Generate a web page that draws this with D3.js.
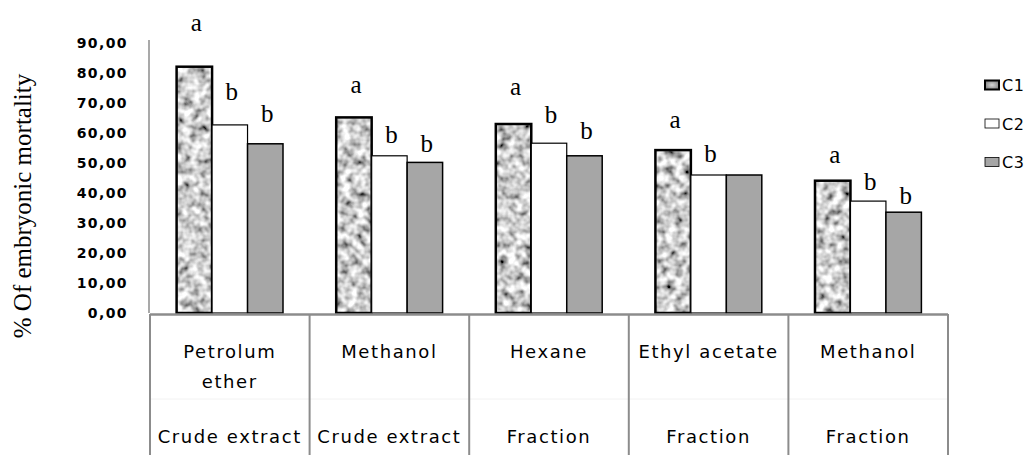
<!DOCTYPE html>
<html>
  <head>
    <title>Embryonic mortality</title>
    <script src="https://cdn.jsdelivr.net/npm/d3@7"></script>
    <style>
      body { margin: 0; background: #fff; }
      .tick text { font-family: "DejaVu Sans"; font-weight: bold; font-size: 14px; letter-spacing: 1.4px; fill: #000; }
      .cat { font-family: "DejaVu Sans"; font-size: 18px; letter-spacing: 1.6px; fill: #000; }
      .sig { font-family: "Liberation Serif"; font-size: 25px; fill: #000; }
    </style>
  </head>
  <body>
    <svg id="chart" width="1036" height="455"></svg>
    <script>
// values
const extractLabels = [['Petrolum', 'ether'], ['Methanol'], ['Hexane'], ['Ethyl acetate'], ['Methanol']];
const typeLabels = ['Crude extract', 'Crude extract', 'Fraction', 'Fraction', 'Fraction'];
const seriesNames = ['C1', 'C2', 'C3'];
const c1 = [82.1, 65.2, 63.0, 54.3, 44.1];
const c2 = [62.7, 52.4, 56.6, 46.0, 37.3];
const c3 = [56.4, 50.2, 52.4, 46.0, 33.6];
// significance letters and the height (in %) where each one sits
const c1Letters = ['a', 'a', 'a', 'a', 'a'];
const c2Letters = ['b', 'b', 'b', 'b', 'b'];
const c3Letters = ['b', 'b', 'b', '', 'b'];
const c1LetterAt = [94, 73.3, 72.7, 61.7, 50];
const c2LetterAt = [71, 56.7, 63.3, 50.3, 41];
const c3LetterAt = [63.7, 53.7, 58, 0, 36.3];
const yTicks = [0, 10, 20, 30, 40, 50, 60, 70, 80, 90];

let svg = d3.select('#chart');

// mottled grey texture of the C1 bars
let defs = svg.append('defs');
let filt = defs.append('filter')
  .attr('id', 'mottle')
  .attr('x', 0).attr('y', 0).attr('width', 1).attr('height', 1);
filt.append('feTurbulence')
  .attr('type', 'fractalNoise')
  .attr('baseFrequency', 0.12)
  .attr('numOctaves', 2)
  .attr('seed', 7)
  .attr('result', 'noise');
filt.append('feColorMatrix')
  .attr('in', 'noise')
  .attr('type', 'matrix')
  .attr('values', '1.8 0 0 0 -0.28  1.8 0 0 0 -0.28  1.8 0 0 0 -0.28  0 0 0 0 1')
  .attr('result', 'grey');
filt.append('feComposite')
  .attr('in', 'grey')
  .attr('in2', 'SourceGraphic')
  .attr('operator', 'in');

let grad = defs.append('radialGradient').attr('id', 'legendC1');
grad.append('stop').attr('offset', '0%').attr('stop-color', '#d6d6d6');
grad.append('stop').attr('offset', '100%').attr('stop-color', '#8a8a8a');

let plotLeft = 150, plotRight = 948, plotBottom = 313, plotTop = 43;

let y = d3.scaleLinear().domain([0, 90]).range([plotBottom, plotTop]);
let x = d3.scaleBand()
  .domain(d3.range(extractLabels.length))
  .range([plotLeft, plotRight])
  .padding(0);
let xs = d3.scaleBand()
  .domain(seriesNames)
  .range([0, x.bandwidth()])
  .paddingInner(0)
  .paddingOuter(0.75);

// y axis
let yAxis = svg.append('g')
  .attr('transform', 'translate(' + (plotLeft - 1) + ',0)')
  .call(d3.axisLeft(y)
    .tickValues(yTicks)
    .tickSize(0)
    .tickPadding(21)
    .tickFormat(d => d3.format('.2f')(d).replace('.', ',')));
yAxis.select('.domain')
  .attr('stroke', '#8c8c8c')
  .attr('stroke-width', 1.5)
  .attr('d', 'M0,' + (plotTop - 3) + 'V' + plotBottom);

svg.append('text')
  .attr('class', 'sig')
  .attr('font-size', 25)
  .attr('text-anchor', 'middle')
  .attr('transform', 'translate(31,' + 206 + ') rotate(-90)')
  .text('% Of embryonic mortality');

// bars
let series = [
  {name: 'C1', values: c1, letters: c1Letters, at: c1LetterAt},
  {name: 'C2', values: c2, letters: c2Letters, at: c2LetterAt},
  {name: 'C3', values: c3, letters: c3Letters, at: c3LetterAt}
];
let styles = {
  C1: {fill: '#aaa', stroke: '#000', sw: 2.5},
  C2: {fill: '#fff', stroke: '#000', sw: 1.2},
  C3: {fill: '#a6a6a6', stroke: '#000', sw: 1.5}
};

series.forEach(function(s) {
  let rows = s.values.map((v, i) => ({i: i, v: v, letter: s.letters[i], at: s.at[i]}));
  let g = svg.append('g');
  if (s.name === 'C1') {
    g.selectAll('.tex')
      .data(rows)
      .enter()
      .append('rect')
      .attr('x', d => x(d.i) + xs(s.name))
      .attr('y', d => y(d.v))
      .attr('width', xs.bandwidth())
      .attr('height', d => y(0) - y(d.v))
      .attr('fill', '#aaa')
      .attr('filter', 'url(#mottle)');
  }
  g.selectAll('.bar')
    .data(rows)
    .enter()
    .append('rect')
    .attr('x', d => x(d.i) + xs(s.name))
    .attr('y', d => y(d.v))
    .attr('width', xs.bandwidth())
    .attr('height', d => y(0) - y(d.v))
    .attr('fill', s.name === 'C1' ? 'none' : styles[s.name].fill)
    .attr('stroke', styles[s.name].stroke)
    .attr('stroke-width', styles[s.name].sw);
  g.selectAll('.sig')
    .data(rows.filter(d => d.letter))
    .enter()
    .append('text')
    .attr('class', 'sig')
    .attr('text-anchor', 'middle')
    .attr('x', d => x(d.i) + xs(s.name) + xs.bandwidth() / 2 + 2)
    .attr('y', d => y(d.at))
    .text(d => d.letter);
});

// category axis drawn as a table
let axisColor = '#8c8c8c';
svg.append('line')
  .attr('x1', plotLeft).attr('x2', plotRight)
  .attr('y1', plotBottom + 1.5).attr('y2', plotBottom + 1.5)
  .attr('stroke', axisColor).attr('stroke-width', 2.5);
svg.append('line')
  .attr('x1', plotLeft).attr('x2', plotRight)
  .attr('y1', 399).attr('y2', 399)
  .attr('stroke', '#f2f2f2').attr('stroke-width', 1);
svg.selectAll('.sep')
  .data(d3.range(extractLabels.length + 1))
  .enter()
  .append('line')
  .attr('x1', d => d < extractLabels.length ? x(d) : plotRight)
  .attr('x2', d => d < extractLabels.length ? x(d) : plotRight)
  .attr('y1', plotBottom + 1)
  .attr('y2', 455)
  .attr('stroke', axisColor)
  .attr('stroke-width', 2);

extractLabels.forEach(function(lines, i) {
  let t = svg.append('text')
    .attr('class', 'cat')
    .attr('text-anchor', 'middle')
    .attr('x', x(i) + x.bandwidth() / 2)
    .attr('y', 358);
  lines.forEach(function(line, k) {
    t.append('tspan')
      .attr('x', x(i) + x.bandwidth() / 2)
      .attr('dy', k === 0 ? 0 : 30)
      .text(line);
  });
});
svg.selectAll('.type')
  .data(typeLabels)
  .enter()
  .append('text')
  .attr('class', 'cat')
  .attr('text-anchor', 'middle')
  .attr('x', (d, i) => x(i) + x.bandwidth() / 2)
  .attr('y', 443)
  .text(d => d);

// legend
let legend = svg.append('g').attr('transform', 'translate(985,0)');
let legendY = d3.scalePoint().domain(seriesNames).range([85, 162]);
let legendFill = {C1: 'url(#legendC1)', C2: '#fff', C3: '#a6a6a6'};
legend.selectAll('rect')
  .data(seriesNames)
  .enter()
  .append('rect')
  .attr('x', 0)
  .attr('y', d => legendY(d) - 4.5)
  .attr('width', 14)
  .attr('height', 9)
  .attr('fill', d => legendFill[d])
  .attr('stroke', '#000')
  .attr('stroke-width', d => d === 'C1' ? 2 : 0.8);
legend.selectAll('text')
  .data(seriesNames)
  .enter()
  .append('text')
  .attr('x', 17)
  .attr('y', d => legendY(d) + 6)
  .attr('font-family', 'DejaVu Sans')
  .attr('font-size', 16)
  .attr('letter-spacing', 0.5)
  .text(d => d);
    </script>
  </body>
</html>
